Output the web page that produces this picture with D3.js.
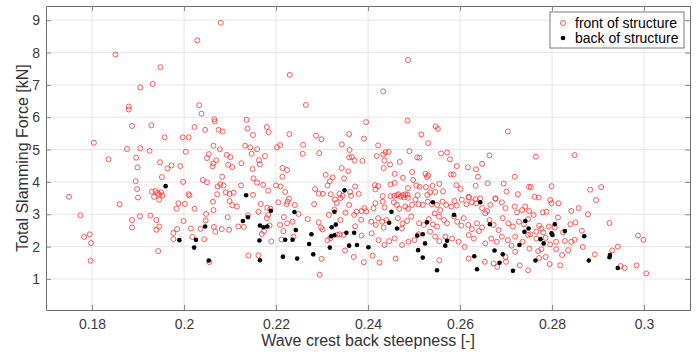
<!DOCTYPE html>
<html>
<head>
<meta charset="utf-8">
<script src="https://cdn.jsdelivr.net/npm/d3@7"></script>
<style>
  body { margin: 0; background: #fff; }
  #mainbox { width: 699px; height: 354px; }
  text { font-family: "Liberation Sans", Arial, sans-serif; }
</style>
</head>
<body>
<div id="mainbox"></div>
<script>
// front of structure (red open circles): [steepness, force kN]
const frontPoints = [
  [0.1851,7.94],[0.1949,7.55],[0.1905,6.92],[0.1932,7.03],[0.188,6.33],[0.188,6.24],[0.2029,8.38],[0.208,8.92],
  [0.2033,6.37],[0.2038,6.11],[0.2066,5.94],[0.223,7.31],[0.2487,7.77],[0.2433,6.8],
  [0.1887,5.73],[0.1929,5.75],[0.2023,5.70],[0.2046,5.61],[0.1958,5.38],[0.1997,5.38],[0.201,5.38],[0.1804,5.21],
  [0.1876,5.02],[0.1905,5.04],[0.1925,4.96],[0.2004,4.93],[0.205,4.74],[0.1836,4.70],[0.1896,4.75],[0.1899,4.45],
  [0.1948,4.61],[0.1973,4.51],[0.1964,4.42],[0.1992,4.49],[0.1952,4.15],[0.1895,4.02],[0.1998,4.0],[0.2041,4.06],
  [0.205,3.99],[0.1898,3.78],[0.193,3.70],[0.1938,3.72],[0.1942,3.66],[0.1946,3.62],[0.195,3.68],[0.1953,3.58],
  [0.1935,3.54],[0.190,3.52],[0.175,3.54],[0.201,3.62],[0.2012,3.58],
  [0.1946,3.45],[0.186,3.31],[0.1988,3.34],[0.2002,3.32],[0.1984,3.17],[0.2023,3.17],[0.2048,3.01],[0.1775,2.97],
  [0.1904,2.94],[0.1927,2.96],[0.1887,2.82],[0.194,2.82],[0.1999,2.79],[0.2047,2.81],[0.1946,2.62],[0.1887,2.59],
  [0.194,2.52],[0.1985,2.54],[0.2015,2.56],[0.2036,2.55],[0.1977,2.42],[0.1795,2.38],[0.1783,2.30],[0.2018,2.30],
  [0.1977,2.23],[0.2044,2.23],[0.1798,2.11],[0.1944,1.86],[0.1797,1.56],[0.2055,1.52],
  [0.2265,6.38],[0.2067,5.87],[0.2136,5.92],[0.2075,5.61],[0.2084,5.56],[0.2138,5.65],[0.218,5.70],[0.2184,5.54],
  [0.215,5.45],[0.2229,5.48],[0.2287,5.43],[0.2299,5.32],[0.2396,5.85],[0.2391,5.34],[0.2359,5.48],[0.2064,5.12],
  [0.2133,5.12],[0.2144,5.07],[0.2159,5.01],[0.2202,5.07],[0.2209,5.14],[0.2259,5.15],[0.2343,5.16],[0.2078,5.01],
  [0.2054,4.86],[0.2147,4.87],[0.2093,4.84],[0.2101,4.77],[0.2258,4.87],[0.2294,4.89],[0.236,4.99],[0.2359,4.76],
  [0.2365,4.77],[0.2371,4.66],[0.2388,4.65],[0.2176,4.80],[0.2163,4.67],[0.2165,4.55],[0.2070,4.67],[0.2064,4.57],
  [0.2062,4.48],[0.2125,4.58],[0.2096,4.53],[0.2105,4.46],[0.2149,4.40],[0.2214,4.43],[0.2224,4.37],[0.2214,4.16],
  [0.2343,4.43],[0.2357,4.33],[0.2308,4.22],[0.2323,4.14],[0.2083,4.16],[0.2151,4.11],[0.2159,3.98],[0.2348,4.11],
  [0.2317,4.02],[0.2312,3.89],[0.2079,3.93],[0.2086,3.89],[0.2073,3.86],[0.2124,3.89],[0.2172,3.91],[0.2183,3.73],
  [0.22,3.89],[0.2210,3.86],[0.222,3.69],[0.2091,3.68],[0.2099,3.63],[0.2108,3.67],[0.2072,3.62],[0.215,3.60],
  [0.2285,3.78],[0.2293,3.64],[0.2302,3.63],[0.2319,3.62],[0.2338,3.63],[0.2372,3.86],[0.2361,3.69],[0.238,3.63],
  [0.2363,3.57],[0.2345,3.57],[0.234,3.50],
  [0.2063,3.39],[0.2099,3.41],[0.2105,3.28],[0.2115,3.24],[0.2167,3.32],[0.2181,3.20],[0.2188,3.17],[0.2205,3.37],
  [0.2225,3.39],[0.2228,3.48],[0.2223,3.31],[0.2241,3.29],[0.2162,3.08],[0.2183,2.98],[0.218,2.88],[0.2139,2.97],
  [0.2095,2.91],[0.2064,3.13],[0.2217,2.91],[0.2224,2.72],[0.2209,2.67],[0.2236,2.77],[0.2249,3.01],[0.2269,2.85],
  [0.2283,3.31],[0.2293,2.75],[0.2298,2.59],[0.2301,2.53],[0.2315,2.98],[0.2327,3.15],[0.2332,3.35],[0.2328,3.46],
  [0.2351,3.05],[0.234,2.82],[0.2359,3.29],[0.2370,2.98],[0.2375,3.08],[0.2386,3.10],[0.2392,3.19],[0.2396,3.09],
  [0.2372,2.63],[0.2385,2.83],[0.2386,2.34],[0.2312,2.20],[0.2318,2.26],[0.2333,2.37],[0.2339,2.38],[0.2347,2.36],
  [0.235,1.88],[0.2369,1.68],[0.2391,1.52],[0.2299,1.62],[0.2295,1.13],[0.214,1.73],[0.2162,1.73],[0.219,2.16],
  [0.2212,2.22],[0.2238,2.31],[0.2082,2.54],[0.2098,2.52],[0.2065,2.61],[0.2068,2.46],[0.2118,2.62],[0.213,2.61],
  [0.2174,2.48],[0.2169,2.39],[0.2186,2.65],[0.2216,2.48],
  [0.2486,5.90],[0.2547,5.72],[0.2552,5.64],[0.2516,5.47],[0.2531,5.20],[0.2704,5.56],[0.2422,5.13],[0.2419,4.80],
  [0.2438,4.92],[0.2445,4.93],[0.2433,4.85],[0.2490,4.95],[0.2507,4.76],[0.2512,4.75],[0.2559,4.88],[0.2572,4.91],
  [0.2578,4.70],[0.2436,4.66],[0.2448,4.54],[0.2434,4.43],[0.2469,4.62],[0.2664,4.82],[0.2648,4.56],[0.2593,4.49],
  [0.2617,4.45],[0.2635,4.39],[0.2496,4.31],[0.2458,4.25],[0.2476,4.13],[0.2525,4.25],[0.2531,4.20],[0.2528,4.15],
  [0.2580,4.23],[0.2586,4.23],[0.2639,4.16],[0.2719,4.16],[0.2498,4.06],[0.2458,3.97],[0.2449,3.92],[0.2415,3.90],
  [0.2422,3.87],[0.2416,3.77],[0.2487,3.81],[0.2505,3.89],[0.2512,3.85],[0.2526,3.84],[0.2540,3.88],[0.2555,3.94],
  [0.2592,3.90],[0.2601,3.78],[0.2634,3.88],[0.266,3.96],[0.2695,3.95],[0.275,3.85],[0.2563,3.71],[0.2546,3.69],
  [0.2535,3.68],[0.2701,3.70],[0.2726,3.62],[0.2432,3.56],[0.2449,3.56],[0.2457,3.57],[0.2463,3.59],[0.2466,3.62],
  [0.2471,3.55],[0.2476,3.59],[0.2481,3.62],[0.2478,3.52],[0.2486,3.61],[0.2487,3.51],[0.2508,3.59],[0.2529,3.60],
  [0.2619,3.54],[0.2644,3.49],[0.2677,3.49],[0.2634,3.47],
  [0.2412,3.19],[0.2416,3.34],[0.2436,3.21],[0.2432,3.39],[0.2456,3.37],[0.2463,3.29],[0.2468,3.17],[0.2481,3.24],
  [0.2487,3.17],[0.2496,3.29],[0.2503,3.45],[0.2510,3.31],[0.2519,3.29],[0.253,3.39],[0.2539,3.31],[0.255,3.29],
  [0.2557,3.13],[0.2562,3.39],[0.257,3.29],[0.2581,3.24],[0.2588,3.41],[0.2593,3.27],[0.2604,3.45],[0.2614,3.31],
  [0.2619,3.52],[0.2626,3.37],[0.2635,3.34],[0.2648,3.19],[0.2659,3.10],[0.2666,3.29],[0.2677,3.48],[0.2691,3.37],
  [0.2699,3.19],[0.2719,3.24],[0.2724,3.06],[0.2735,3.13],[0.2742,3.24],[0.275,3.10],
  [0.2407,2.77],[0.2422,2.88],[0.2431,2.77],[0.244,2.82],[0.2417,2.67],[0.2434,2.59],[0.2465,2.88],[0.2475,2.72],
  [0.2485,2.79],[0.2494,2.93],[0.2474,2.56],[0.2511,2.72],[0.2521,2.67],[0.2532,2.85],[0.2541,2.69],[0.255,2.62],
  [0.2545,3.03],[0.2554,2.93],[0.2565,2.82],[0.2572,2.72],[0.2587,2.93],[0.2594,2.77],[0.2603,2.65],[0.2608,2.88],
  [0.2618,2.67],[0.2626,2.54],[0.2637,2.72],[0.2648,2.59],[0.2655,3.03],[0.2664,2.82],[0.2673,2.67],[0.2684,2.51],
  [0.2693,2.88],[0.2705,2.72],[0.2715,2.62],[0.2728,2.77],[0.2739,2.69],[0.2748,2.85],
  [0.2408,2.41],[0.2423,2.20],[0.2436,2.05],[0.2446,2.17],[0.2458,2.25],[0.2474,2.05],[0.2488,2.15],[0.2501,2.20],
  [0.251,2.38],[0.2535,2.46],[0.2546,2.31],[0.2555,2.17],[0.2568,2.31],[0.2583,2.25],[0.2597,2.15],[0.261,1.99],
  [0.2619,2.36],[0.263,2.25],[0.2641,2.48],[0.2655,2.10],[0.2668,2.25],[0.268,2.15],[0.2691,2.31],[0.2704,2.20],
  [0.272,2.31],[0.2736,2.15],[0.2748,2.36],
  [0.2410,1.72],[0.2425,1.51],[0.246,1.63],[0.2555,1.58],[0.2619,1.63],[0.2654,1.53],[0.2673,1.48],[0.2681,1.37],
  [0.2699,1.68],[0.27,1.53],[0.2712,2.03],[0.272,1.84],[0.273,1.42],[0.2748,1.27],
  [0.2765,4.78],[0.2849,4.83],[0.2754,3.84],[0.2799,3.87],[0.2883,3.76],[0.2907,3.84],[0.2762,3.54],[0.2771,3.52],
  [0.2796,3.44],[0.2896,3.44],
  [0.2799,3.34],[0.2814,3.34],[0.2858,3.19],[0.2842,3.10],[0.278,3.06],[0.2788,3.08],[0.276,2.98],[0.2878,3.0],
  [0.2813,2.90],[0.2851,2.75],[0.284,2.69],[0.2925,2.73],[0.2772,2.65],[0.2777,2.56],[0.2766,2.46],[0.2781,2.44],
  [0.2793,2.62],[0.2806,2.59],[0.2824,2.44],[0.2865,2.49],[0.2753,2.38],[0.2766,2.25],[0.2786,2.27],[0.2796,2.07],
  [0.2809,2.15],[0.2828,2.17],[0.2842,2.15],[0.2849,2.21],[0.2867,1.99],[0.2751,1.94],[0.2777,1.92],[0.277,1.86],
  [0.2809,1.92],[0.2822,1.74],[0.2835,1.89],[0.2772,1.65],[0.2786,1.68],[0.2893,1.76],[0.2931,1.88],[0.2943,2.0],
  [0.2795,1.46],[0.2818,1.42],[0.2949,1.40],[0.2958,1.34],[0.2984,1.42],[0.2987,2.34],[0.2999,2.21],[0.3005,1.17]
];

// back of structure (black filled dots)
const backPoints = [
  [0.196,3.87],[0.199,2.2],[0.2026,2.21],[0.2022,1.97],[0.2046,2.62],[0.2054,1.57],[0.2135,3.59],[0.2349,3.74],
  [0.2189,3.11],[0.2139,2.91],[0.2128,2.79],[0.2165,2.65],[0.2173,2.60],[0.2181,2.62],[0.2164,2.19],[0.2165,1.58],
  [0.224,3.07],[0.2243,2.51],[0.222,2.21],[0.2236,2.21],[0.2215,1.69],[0.2246,1.63],[0.2277,2.38],[0.2272,2.08],
  [0.2281,1.76],[0.2327,3.08],[0.2321,2.60],[0.233,2.68],[0.232,2.32],[0.2327,2.35],[0.2317,1.97],[0.2353,2.43],
  [0.2370,2.43],[0.2359,2.03],[0.2376,2.05],[0.2401,1.98],[0.2451,3.08],[0.2541,3.37],[0.2644,3.37],[0.2587,2.98],
  [0.2446,2.74],[0.2463,2.56],[0.2528,2.75],[0.2665,2.69],[0.2507,2.34],[0.2519,2.38],[0.2524,2.10],[0.2572,2.18],
  [0.2568,2.03],[0.2509,1.89],[0.2519,1.66],[0.2550,1.27],[0.2631,1.70],[0.2637,1.30],[0.2675,1.88],[0.2693,1.76],
  [0.2686,1.50],[0.2729,2.05],[0.2715,1.25],[0.2740,2.46],[0.2742,2.79],[0.2749,2.56],[0.2806,2.69],[0.2799,2.41],
  [0.2801,2.36],[0.2775,2.23],[0.2782,2.10],[0.2828,2.48],[0.2870,2.32],[0.2764,1.57],[0.2880,1.57],[0.2925,1.67],
  [0.2926,1.74],[0.2943,1.34]
];

const xTicks = [0.18, 0.2, 0.22, 0.24, 0.26, 0.28, 0.3];
const yTicks = [1, 2, 3, 4, 5, 6, 7, 8, 9];
const legendLabels = ['front of structure', 'back of structure'];
const xTitle = 'Wave crest back steepness [-]';
const yTitle = 'Total Slamming Force [kN]';

const margin = {t:6, r:9, b:44, l:46};
const w_svg = 699, h_svg = 354;
const w = w_svg - margin.l - margin.r,
      h = h_svg - margin.t - margin.b;

let svgMain = d3.select('#mainbox')
  .append('svg')
  .attr('width', w_svg)
  .attr('height', h_svg);

let plot = svgMain.append('g')
  .attr('transform', `translate(${margin.l},${margin.t})`);

const scaleX = d3.scaleLinear().domain([0.17, 0.31]).range([0, w]);
const scaleY = d3.scaleLinear().domain([0.04, 9.44]).range([h, 0]);

// grid
const grid = plot.append('g').attr('class', 'grid');
grid.selectAll('line.gx')
  .data(xTicks)
  .enter().append('line')
  .attr('class', 'gx')
  .attr('x1', d => scaleX(d)).attr('x2', d => scaleX(d))
  .attr('y1', 0).attr('y2', h)
  .attr('stroke', '#e6e6e6').attr('stroke-width', 1);
grid.selectAll('line.gy')
  .data(yTicks)
  .enter().append('line')
  .attr('class', 'gy')
  .attr('x1', 0).attr('x2', w)
  .attr('y1', d => scaleY(d)).attr('y2', d => scaleY(d))
  .attr('stroke', '#e6e6e6').attr('stroke-width', 1);

// points
plot.selectAll('.front')
  .data(frontPoints)
  .enter().append('circle')
  .attr('class', 'front')
  .attr('cx', d => scaleX(d[0]))
  .attr('cy', d => scaleY(d[1]))
  .attr('r', 2.5)
  .attr('fill', 'none')
  .attr('stroke', '#ff3030')
  .attr('stroke-width', 0.8);

plot.selectAll('.back')
  .data(backPoints)
  .enter().append('circle')
  .attr('class', 'back')
  .attr('cx', d => scaleX(d[0]))
  .attr('cy', d => scaleY(d[1]))
  .attr('r', 2.3)
  .attr('fill', '#000');

// axes, ticks pointing inward
const axisX = d3.axisBottom(scaleX).tickValues(xTicks).tickFormat(d3.format('')).tickSizeInner(-5).tickSizeOuter(0).tickPadding(9);
const axisY = d3.axisLeft(scaleY).tickValues(yTicks).tickSizeInner(-5).tickSizeOuter(0).tickPadding(6);
const axisXTop = d3.axisTop(scaleX).tickValues(xTicks).tickFormat('').tickSizeInner(-5).tickSizeOuter(0);
const axisYRight = d3.axisRight(scaleY).tickValues(yTicks).tickFormat('').tickSizeInner(-5).tickSizeOuter(0);

plot.append('g').attr('class', 'axis axis-x').attr('transform', `translate(0,${h})`).call(axisX);
plot.append('g').attr('class', 'axis axis-y').call(axisY);
plot.append('g').attr('class', 'axis').call(axisXTop);
plot.append('g').attr('class', 'axis').attr('transform', `translate(${w},0)`).call(axisYRight);

plot.selectAll('.axis path').attr('stroke', '#6e6e6e');
plot.selectAll('.axis line').attr('stroke', '#8a8a8a');
plot.selectAll('.axis text')
  .attr('fill', '#3a3a3a')
  .style('font-size', '14px')
  .style('font-family', '"Liberation Sans", Arial, sans-serif');

// titles
svgMain.append('text')
  .attr('x', margin.l + w / 2)
  .attr('y', 346)
  .attr('text-anchor', 'middle')
  .attr('fill', '#333')
  .style('font-size', '16px')
  .text(xTitle);

svgMain.append('text')
  .attr('transform', `translate(28,${margin.t + h / 2}) rotate(-90)`)
  .attr('text-anchor', 'middle')
  .attr('fill', '#333')
  .style('font-size', '16px')
  .text(yTitle);

// legend
const legend = svgMain.append('g').attr('transform', 'translate(550,12)');
legend.append('rect')
  .attr('width', 134).attr('height', 36)
  .attr('fill', '#fff')
  .attr('stroke', '#7a7a7a').attr('stroke-width', 1);
const items = legend.selectAll('.item')
  .data(legendLabels)
  .enter().append('g')
  .attr('class', 'item')
  .attr('transform', (d, i) => `translate(0,${11 + i * 15})`);
items.append('circle')
  .attr('cx', 13).attr('cy', 0)
  .attr('r', (d, i) => i === 0 ? 2.5 : 2.3)
  .attr('fill', (d, i) => i === 0 ? 'none' : '#000')
  .attr('stroke', (d, i) => i === 0 ? '#ff3030' : 'none')
  .attr('stroke-width', 0.8);
items.append('text')
  .attr('x', 25).attr('y', 5)
  .attr('fill', '#000')
  .style('font-size', '14px')
  .text(d => d);
</script>
</body>
</html>
